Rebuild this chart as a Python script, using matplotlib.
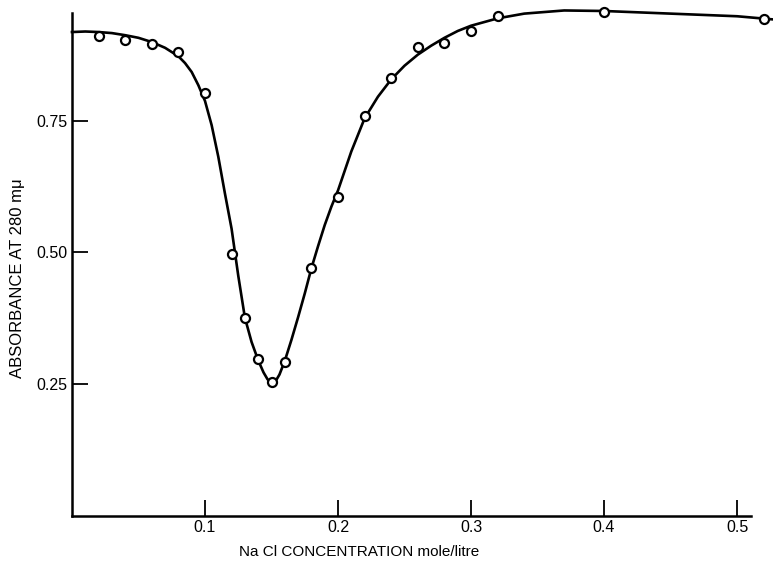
import matplotlib
matplotlib.use("Agg")
import matplotlib.pyplot as plt

# measured points (open circles)
nacl = [0.02, 0.04, 0.06, 0.08, 0.10, 0.12, 0.13, 0.14, 0.15, 0.16,
        0.18, 0.20, 0.22, 0.24, 0.26, 0.28, 0.30, 0.32, 0.40, 0.52]
absorb = [0.912, 0.904, 0.896, 0.881, 0.803, 0.497, 0.375, 0.298, 0.254, 0.292,
          0.471, 0.606, 0.760, 0.832, 0.891, 0.898, 0.921, 0.950, 0.957, 0.944]

# hand-drawn smooth curve
curve_x = [0.000, 0.010, 0.020, 0.030, 0.040, 0.050, 0.060, 0.070, 0.080, 0.085,
           0.090, 0.095, 0.100, 0.105, 0.110, 0.115, 0.120, 0.125, 0.130, 0.135,
           0.140, 0.144, 0.147, 0.150, 0.153, 0.156, 0.160, 0.165, 0.170, 0.175,
           0.180, 0.185, 0.190, 0.195, 0.200, 0.210, 0.220, 0.230, 0.240, 0.250,
           0.260, 0.270, 0.280, 0.290, 0.300, 0.320, 0.340, 0.370, 0.400, 0.450,
           0.500, 0.527]
curve_y = [0.919, 0.920, 0.919, 0.917, 0.913, 0.908, 0.900, 0.889, 0.873, 0.860,
           0.843, 0.818, 0.788, 0.742, 0.682, 0.612, 0.545, 0.456, 0.376, 0.330,
           0.295, 0.272, 0.259, 0.251, 0.255, 0.268, 0.294, 0.334, 0.377, 0.422,
           0.470, 0.512, 0.552, 0.587, 0.618, 0.692, 0.755, 0.796, 0.829, 0.855,
           0.876, 0.893, 0.908, 0.921, 0.931, 0.945, 0.954, 0.960, 0.959, 0.954,
           0.949, 0.943]

xticks = [0.1, 0.2, 0.3, 0.4, 0.5]
xtick_labels = ["0.1", "0.2", "0.3", "0.4", "0.5"]
yticks = [0.25, 0.50, 0.75]
ytick_labels = ["0.25", "0.50", "0.75"]

plt.rcParams['font.family'] = ['Liberation Sans', 'DejaVu Sans']

fig = plt.figure(figsize=(7.73, 5.62), dpi=100)
ax = fig.add_axes([0.0931, 0.0827, 0.9069, 0.894])

ax.plot(curve_x, curve_y, color='black', lw=1.9, clip_on=False, zorder=2,
        solid_joinstyle='round')
ax.plot(nacl, absorb, 'o', ms=6.5, mfc='white', mec='black', mew=1.6,
        clip_on=False, zorder=3)

ax.set_xlim(0, 0.527)
ax.set_ylim(0, 0.955)

ax.spines['top'].set_visible(False)
ax.spines['right'].set_visible(False)
for s in ('left', 'bottom'):
    ax.spines[s].set_linewidth(1.8)
ax.spines['bottom'].set_bounds(0, 0.5105)

ax.set_xticks(xticks)
ax.set_xticklabels(xtick_labels)
ax.set_yticks(yticks)
ax.set_yticklabels(ytick_labels)
ax.tick_params(axis='both', direction='in', length=11.5, width=1.3,
               labelsize=11.5, pad=3)

ax.set_xlabel("Na Cl CONCENTRATION mole/litre", fontsize=11)
ax.xaxis.set_label_coords(0.409, -0.0726)
ax.xaxis.label.set_va('center')
ax.set_ylabel("ABSORBANCE AT 280 m\u03bc", fontsize=12)
ax.yaxis.set_label_coords(-0.077, 0.472)
ax.yaxis.label.set_va('center')

fig.savefig("out.png", dpi=100)
